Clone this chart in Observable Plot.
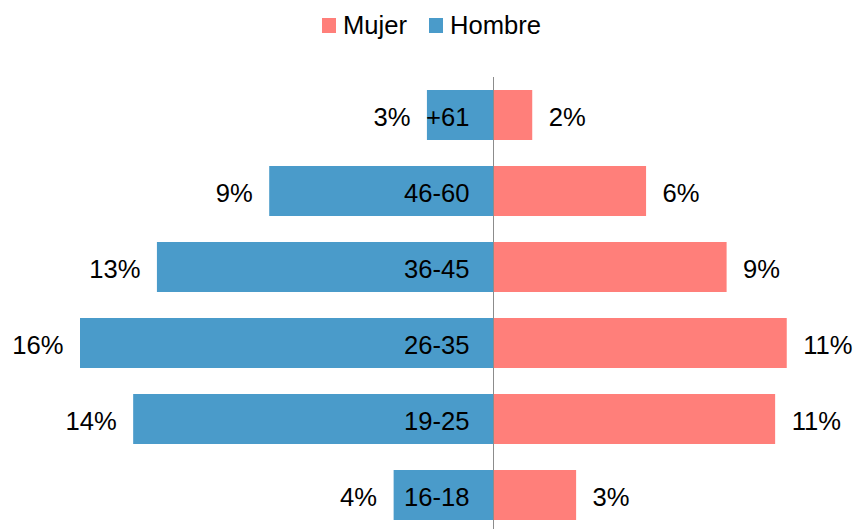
<!DOCTYPE html>
<html><head><meta charset="utf-8">
<script src="https://cdn.jsdelivr.net/npm/d3@7"></script>
<script src="https://cdn.jsdelivr.net/npm/@observablehq/plot@0.6"></script>
<style>
body{margin:0;background:#fff;font-family:"Liberation Sans",Arial,sans-serif;}
#legend{position:relative;height:50px;font-size:25.6px;color:#000;}
.item{position:absolute;top:0;height:50px;display:flex;align-items:center;}
.sw{width:14px;height:15px;margin-right:7px;}
#chart svg{display:block;}
</style></head><body>
<div id="legend"></div><div id="chart"></div>
<script>
const categories = ["+61", "46-60", "36-45", "26-35", "19-25", "16-18"];
const hombre = [2.56, 8.67, 13.02, 16.0, 13.94, 3.85];
const mujer = [1.52, 5.93, 9.05, 11.38, 10.93, 3.22];
const series = ["Mujer", "Hombre"];
const colors = ["#FF7F7A", "#4A9BCA"];

const rows = [];
categories.forEach((c, i) => {
  rows.push({cat: c, sex: "Hombre", v: -hombre[i], label: Math.round(hombre[i]) + "%"});
  rows.push({cat: c, sex: "Mujer", v: mujer[i], label: Math.round(mujer[i]) + "%"});
});
const hRows = rows.filter(d => d.sex === "Hombre");
const mRows = rows.filter(d => d.sex === "Mujer");

// legend
const legend = document.getElementById("legend");
const lefts = [322, 429];
series.forEach((s, i) => {
  const it = document.createElement("div");
  it.className = "item";
  it.style.left = lefts[i] + "px";
  it.innerHTML = `<span class="sw" style="background:${colors[i]}"></span><span>${s}</span>`;
  legend.appendChild(it);
});

const chart = Plot.plot({
  width: 858,
  height: 479,
  marginTop: 27,
  marginBottom: 0,
  marginLeft: 0,
  marginRight: 0,
  style: {fontFamily: "'Liberation Sans', Arial, sans-serif", background: "white", color: "#000"},
  x: {domain: [-16, 16], range: [80, 906], axis: null},
  y: {domain: categories, range: [27, 484], paddingInner: 0.336, paddingOuter: 0.168, axis: null},
  color: {domain: series, range: colors},
  marks: [
    Plot.barX(rows, {y: "cat", x1: 0, x2: "v", fill: "sex"}),
    Plot.ruleX([0], {stroke: "#8c8c8c", strokeWidth: 1}),
    Plot.text(hRows, {y: "cat", x: "v", text: "label", textAnchor: "end", dx: -17, dy: 2, fontSize: 25.6, fill: "#000"}),
    Plot.text(mRows, {y: "cat", x: "v", text: "label", textAnchor: "start", dx: 16, dy: 2, fontSize: 25.6, fill: "#000"}),
    Plot.text(hRows, {y: "cat", x: 0, text: "cat", textAnchor: "end", dx: -24, dy: 2, fontSize: 25.6, fill: "#000"})
  ]
});
document.getElementById("chart").appendChild(chart);
</script>
</body></html>
